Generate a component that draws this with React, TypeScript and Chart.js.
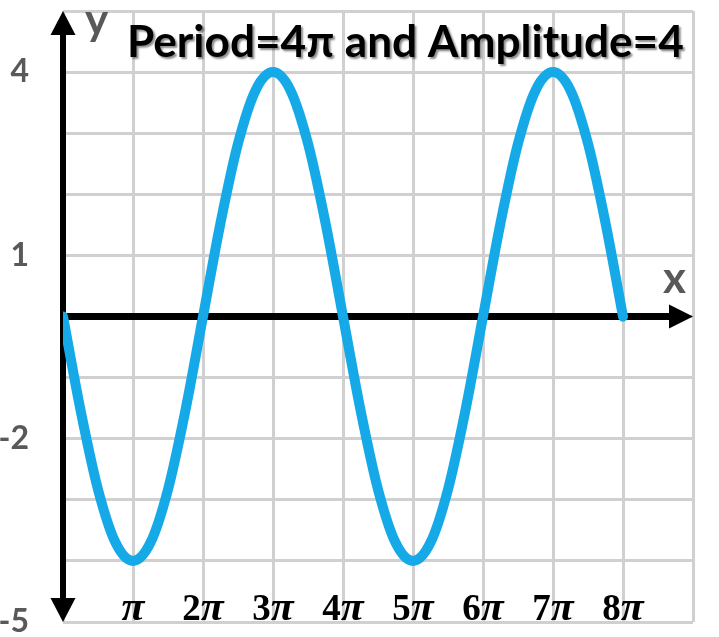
import React, { useEffect, useRef } from 'react';
import { Chart, registerables } from 'chart.js';

Chart.register(...registerables);

// x positions in multiples of π
const xPi = [
  0, 0.25, 0.5, 0.75, 1, 1.25, 1.5, 1.75, 2, 2.25, 2.5, 2.75, 3, 3.25, 3.5, 3.75, 4,
  4.25, 4.5, 4.75, 5, 5.25, 5.5, 5.75, 6, 6.25, 6.5, 6.75, 7, 7.25, 7.5, 7.75, 8,
];
// y values
const yValues = [
  0, -1.53, -2.83, -3.7, -4, -3.7, -2.83, -1.53, 0, 1.53, 2.83, 3.7, 4, 3.7, 2.83, 1.53, 0,
  -1.53, -2.83, -3.7, -4, -3.7, -2.83, -1.53, 0, 1.53, 2.83, 3.7, 4, 3.7, 2.83, 1.53, 0,
];
const yTickLabels = [-5, -2, 1, 4];
const xTickValues = [1, 2, 3, 4, 5, 6, 7, 8];
const xTickDigits = ['', '2', '3', '4', '5', '6', '7', '8'];
const titleText = 'Period=4π and Amplitude=4';
const xAxisName = 'x';
const yAxisName = 'y';

const DIGIT_FONT = 'bold 37px "Liberation Serif"';
const PI_FONT = 'italic bold 42px "Liberation Serif"';

const overlay = {
  id: 'overlay',
  beforeDatasetsDraw(chart: any) {
    const { ctx, scales } = chart;
    const xs = scales.x;
    const ys = scales.y;
    const x0 = xs.getPixelForValue(0);
    const y0 = ys.getPixelForValue(0);
    const yTop = ys.getPixelForValue(5);
    const yBot = ys.getPixelForValue(-5);
    const xEnd = xs.getPixelForValue(9);
    ctx.save();
    ctx.fillStyle = '#000';
    ctx.fillRect(x0 - 3, yTop + 20, 6, yBot - yTop - 40);
    ctx.beginPath();
    ctx.moveTo(x0, yTop);
    ctx.lineTo(x0 - 12.5, yTop + 24);
    ctx.lineTo(x0 + 12.5, yTop + 24);
    ctx.closePath();
    ctx.fill();
    ctx.beginPath();
    ctx.moveTo(x0, yBot);
    ctx.lineTo(x0 - 12.5, yBot - 24);
    ctx.lineTo(x0 + 12.5, yBot - 24);
    ctx.closePath();
    ctx.fill();
    ctx.fillRect(x0 - 3, y0 - 3.5, xEnd - x0 - 18, 7);
    ctx.beginPath();
    ctx.moveTo(xEnd, y0);
    ctx.lineTo(xEnd - 24, y0 - 12);
    ctx.lineTo(xEnd - 24, y0 + 12);
    ctx.closePath();
    ctx.fill();
    ctx.restore();
  },
  afterDraw(chart: any) {
    const { ctx, scales } = chart;
    const xs = scales.x;
    const ys = scales.y;
    ctx.save();
    ctx.fillStyle = '#000';
    ctx.textBaseline = 'alphabetic';
    ctx.textAlign = 'left';
    const baseY = ys.getPixelForValue(-5) - 2;
    xTickValues.forEach((v, i) => {
      const cx = xs.getPixelForValue(v);
      const d = xTickDigits[i];
      ctx.font = DIGIT_FONT;
      const wd = d ? ctx.measureText(d).width : 0;
      ctx.font = PI_FONT;
      const wp = ctx.measureText('π').width;
      let sx = cx - (wd + wp) / 2;
      if (d) {
        ctx.font = DIGIT_FONT;
        ctx.fillText(d, sx, baseY);
        sx += wd;
      }
      ctx.font = PI_FONT;
      ctx.fillText('π', sx, baseY);
    });
    ctx.fillStyle = '#595959';
    ctx.font = 'bold 44px Lato';
    ctx.fillText(yAxisName, xs.getPixelForValue(0) + 22, ys.getPixelForValue(5) + 24);
    ctx.fillText(xAxisName, xs.getPixelForValue(9) - 30, ys.getPixelForValue(0) - 24);
    let size = 44;
    ctx.font = `bold ${size}px Lato`;
    const w = ctx.measureText(titleText).width;
    size = (size * 557) / w;
    ctx.font = `bold ${size}px Lato`;
    ctx.fillStyle = '#000';
    ctx.shadowColor = 'rgba(0,0,0,0.45)';
    ctx.shadowOffsetX = 2;
    ctx.shadowOffsetY = 2;
    ctx.shadowBlur = 2;
    ctx.fillText(titleText, 127, 57);
    ctx.restore();
  },
};

export default function App() {
  const ref = useRef<HTMLCanvasElement | null>(null);
  useEffect(() => {
    if (!ref.current) return;
    const chart = new Chart(ref.current, {
      type: 'line',
      data: {
        datasets: [
          {
            data: xPi.map((v, i) => ({ x: v, y: yValues[i] })),
            borderColor: '#16A9E8',
            borderWidth: 10,
            pointRadius: 0,
            cubicInterpolationMode: 'monotone',
            borderCapStyle: 'round',
            borderJoinStyle: 'round',
            fill: false,
          } as any,
        ],
      },
      options: {
        animation: false,
        responsive: false,
        devicePixelRatio: 1,
        layout: { padding: { top: 11, right: 26, bottom: 15, left: 0 } },
        plugins: { legend: { display: false }, tooltip: { enabled: false }, title: { display: false } },
        scales: {
          x: {
            type: 'linear',
            min: 0,
            max: 9,
            ticks: { display: false, stepSize: 1 },
            grid: { color: '#D0D0D0', lineWidth: 3, drawTicks: false },
            border: { display: false },
          },
          y: {
            type: 'linear',
            min: -5,
            max: 5,
            ticks: {
              stepSize: 1,
              autoSkip: false,
              padding: 34,
              color: '#595959',
              font: { family: 'Lato', weight: 'bold', size: 32 },
              callback: (v: any) => (yTickLabels.includes(Number(v)) ? String(v) : ''),
            },
            grid: { color: '#D0D0D0', lineWidth: 3, drawTicks: false },
            border: { display: false },
            afterFit: (s: any) => {
              s.width = 63;
              s.paddingTop = 0;
              s.paddingBottom = 0;
            },
          },
        },
      },
      plugins: [overlay],
    });
    return () => chart.destroy();
  }, []);
  return (
    <div style={{ position: 'fixed', left: 0, top: 0, width: 719, height: 637, background: '#fff' }}>
      <canvas ref={ref} width={719} height={637} />
    </div>
  );
}
